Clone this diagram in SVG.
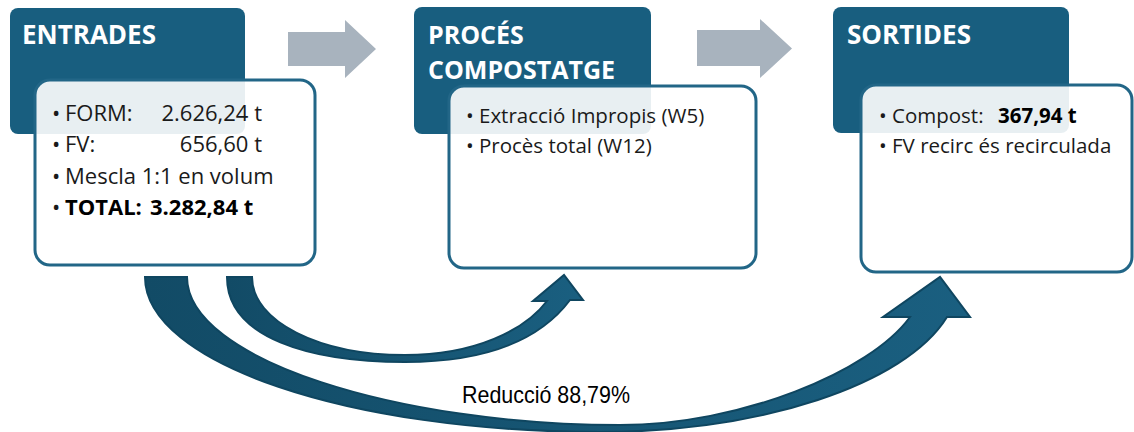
<svg xmlns="http://www.w3.org/2000/svg" width="1134" height="432" viewBox="0 0 1134 432">
<defs>
<style>
.hdr{fill:#185E7F;}
.card{fill:#FFFFFF;fill-opacity:0.9;stroke:#226687;stroke-width:3;}
.htxt{font-family:"Open Sans","DejaVu Sans",sans-serif;font-weight:bold;font-size:26px;fill:#FFFFFF;}
.h2{font-size:25px;}
.btxt{font-family:"Open Sans","DejaVu Sans",sans-serif;font-size:20.5px;fill:#1A1A1A;}
.big{font-size:22px;}
.bold{font-weight:bold;fill:#000000;}
.gray{fill:#A8B3BE;}
.curve{stroke:#0F4660;stroke-width:2;stroke-linejoin:miter;}
.lbl{font-family:"Liberation Sans",Arial,sans-serif;font-size:24px;fill:#000000;}
</style>
<linearGradient id="g1" x1="0" y1="0" x2="1" y2="0">
<stop offset="0" stop-color="#124B66"/>
<stop offset="1" stop-color="#1A5F80"/>
</linearGradient>
</defs>

<g id="connectors">
<path class="gray" d="M288,32 L345,32 L345,20 L376,49 L345,78 L345,66 L288,66 Z"/>
<path class="gray" d="M697,30 L760,30 L760,19 L792,48.5 L760,78 L760,66 L697,66 Z"/>
<path class="curve" fill="url(#g1)" d="M227,277 C227,338 310,362 405,362 C485,362 540,340 570,300 L583,300 L564,275 L533,301 L547,301 C525,330 475,355 405,355 C320,355 252,322 252,277 Z"/>
<path class="curve" fill="url(#g1)" d="M145,277 C145,363 349,432 600,432 C760,432 905,385 947,317 L970,317 L940,277 L883,317 L910,317 C870,372 740,425 620,425 C400,425 187,360 187,277 Z"/>
<text class="lbl" x="462" y="403" textLength="168" lengthAdjust="spacingAndGlyphs">Reducció 88,79%</text>
</g>

<g id="entrades">
<rect class="hdr" x="10" y="8" width="235" height="126" rx="8"/>
<text class="htxt" x="22" y="44">ENTRADES</text>
<rect class="card" x="35" y="80" width="280" height="185" rx="15"/>
<text class="btxt big" x="52" y="121">•</text>
<text class="btxt big" x="65" y="121">FORM:</text>
<text class="btxt big" x="262" y="121" text-anchor="end">2.626,24 t</text>
<text class="btxt big" x="52" y="152">•</text>
<text class="btxt big" x="65" y="152">FV:</text>
<text class="btxt big" x="262" y="152" text-anchor="end">656,60 t</text>
<text class="btxt big" x="52" y="184">•</text>
<text class="btxt big" x="65" y="184">Mescla 1:1 en volum</text>
<text class="btxt big" x="52" y="215">•</text>
<text class="btxt big bold" x="65" y="215">TOTAL:</text>
<text class="btxt big bold" x="150" y="215">3.282,84 t</text>
</g>

<g id="proces">
<rect class="hdr" x="414" y="7" width="237" height="127" rx="8"/>
<text class="htxt h2" x="428" y="44">PROCÉS</text>
<text class="htxt h2" x="428" y="78.5">COMPOSTATGE</text>
<rect class="card" x="449" y="86" width="307" height="182" rx="15"/>
<text class="btxt" x="466" y="123">•</text>
<text class="btxt" x="479" y="123">Extracció Impropis (W5)</text>
<text class="btxt" x="466" y="153">•</text>
<text class="btxt" x="479" y="153">Procès total (W12)</text>
</g>

<g id="sortides">
<rect class="hdr" x="833" y="7" width="236" height="126" rx="8"/>
<text class="htxt" x="847" y="44">SORTIDES</text>
<rect class="card" x="861" y="85" width="271" height="187" rx="15"/>
<text class="btxt" x="879" y="123">•</text>
<text class="btxt" x="892" y="123">Compost:</text>
<text class="btxt bold" x="998" y="123">367,94 t</text>
<text class="btxt" x="879" y="153">•</text>
<text class="btxt" x="892" y="153">FV recirc és recirculada</text>
</g>
</svg>
